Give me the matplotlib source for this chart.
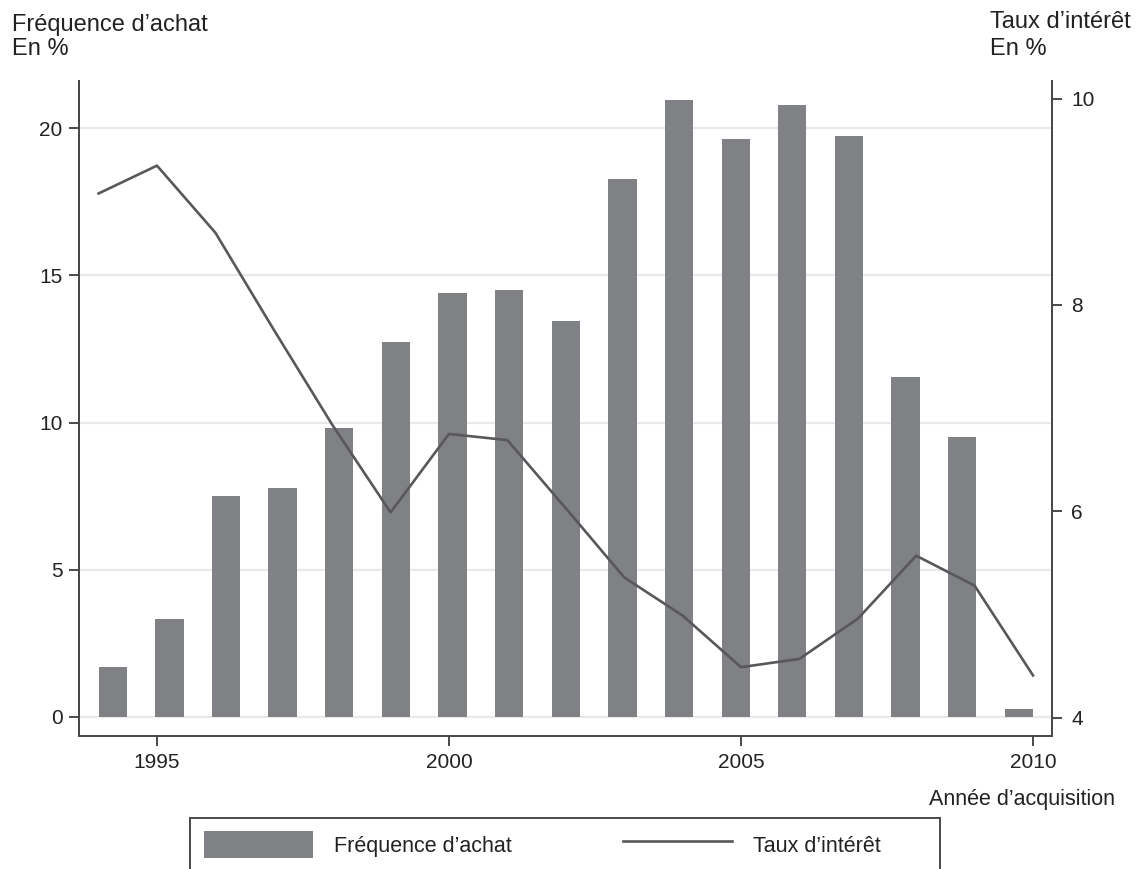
import numpy as np
import matplotlib
matplotlib.use('Agg')
import matplotlib.pyplot as plt
from matplotlib.patches import Rectangle
from matplotlib.lines import Line2D
from matplotlib.patches import Patch

plt.rcParams['font.family'] = ['Liberation Sans', 'DejaVu Sans']

# data
years = list(range(1994, 2011))
frequence = [1.70, 3.32, 7.49, 7.78, 9.82, 12.74, 14.39, 14.49, 13.46,
             18.27, 20.96, 19.65, 20.79, 19.74, 11.55, 9.50, 0.25]
taux = [9.08, 9.35, 8.70, 7.76, 6.84, 5.99, 6.75, 6.69, 6.03,
        5.36, 4.99, 4.49, 4.57, 4.96, 5.57, 5.28, 4.41]
x_ticks = [1995, 2000, 2005, 2010]
left_ticks = [0, 5, 10, 15, 20]
right_ticks = [4, 6, 8, 10]

bar_col = '#808184'
line_col = '#58585a'
axis_col = '#4a4a4a'
text_col = '#222222'

W, H = 1148, 869
fig = plt.figure(figsize=(W / 100, H / 100), dpi=100)
fig.subplots_adjust(left=79 / W, right=1052 / W, top=1 - 81 / H, bottom=1 - 736 / H)
ax = fig.add_subplot(111)

# bars sit in equal slots spanning the first to last year (stata style)
n = len(years)
slot = (years[-1] - years[0]) / (n - 0.5)
bar_x = [years[0] + i * slot for i in range(n)]
ax.bar(bar_x, frequence, width=slot / 2, align='edge', color=bar_col, zorder=2)

ax.set_xlim(1993.665, 2010.325)
ax.set_ylim(-0.656, 21.61)
ax.set_xticks(x_ticks)
ax.set_yticks(left_ticks)
ax.yaxis.grid(True, color='#e9e9e9', linewidth=1.6)
ax.set_axisbelow(True)

ax2 = ax.twinx()
ax2.plot(years, taux, color=line_col, linewidth=1.9, zorder=3)
ax2.set_ylim(3.823, 10.17)
ax2.set_yticks(right_ticks)

for a in (ax, ax2):
    a.spines['top'].set_visible(False)
    for s in ('left', 'right', 'bottom'):
        a.spines[s].set_color(axis_col)
        a.spines[s].set_linewidth(1.4)
    a.tick_params(direction='out', length=7.5, width=1.4, color=axis_col,
                  labelsize=15, labelcolor=text_col)
ax.tick_params(axis='y', pad=4.3)
ax.tick_params(axis='x', pad=5.0)
ax2.tick_params(axis='y', pad=6.5)

# axis titles
fig.text(12 / W, 1 - 30.7 / H, 'Fréquence d’achat', fontsize=17, color=text_col, va='baseline')
fig.text(12 / W, 1 - 55 / H, 'En %', fontsize=17, color=text_col, va='baseline')
fig.text(990 / W, 1 - 28 / H, 'Taux d’intérêt', fontsize=17, color=text_col, va='baseline')
fig.text(990 / W, 1 - 55 / H, 'En %', fontsize=17, color=text_col, va='baseline')
fig.text(929 / W, 1 - 805 / H, 'Année d’acquisition', fontsize=15.5, color=text_col, va='baseline')

# legend, its frame runs off the bottom of the picture
handles = [Patch(facecolor=bar_col, edgecolor='none'),
           Line2D([0], [0], color=line_col, linewidth=1.9)]
fig.legend(handles, ['Fréquence d’achat', 'Taux d’intérêt'], ncol=2,
           loc='upper left', mode='expand', frameon=False,
           bbox_to_anchor=(204 / W, 1 - 872 / H, (881 - 204) / W, 41 / H),
           borderpad=0, borderaxespad=0, fontsize=15.5,
           handlelength=5.07, handleheight=1.55, handletextpad=0.98,
           labelcolor=text_col)
fig.add_artist(Rectangle((190 / W, -0.05), (940 - 190) / W, 1 - 818 / H + 0.05,
                         transform=fig.transFigure, fill=False,
                         edgecolor=axis_col, linewidth=1.4, clip_on=False))

fig.savefig('out.png', dpi=100)
